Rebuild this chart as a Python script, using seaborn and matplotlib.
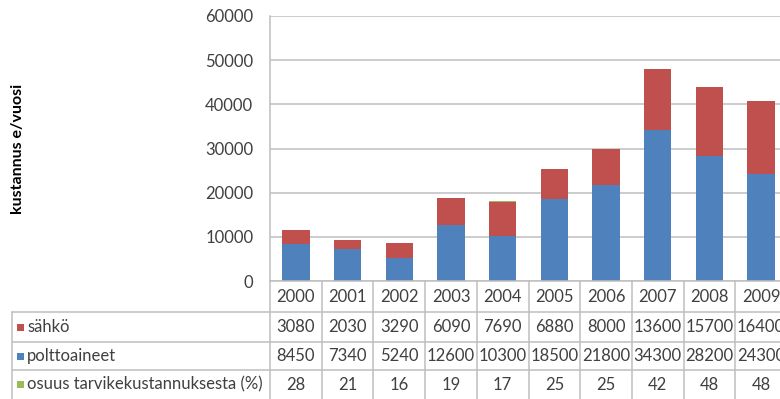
import matplotlib
matplotlib.use("Agg")
import matplotlib.pyplot as plt
from matplotlib.patches import Rectangle
import pandas as pd
import seaborn as sns

# Annual costs per series
years = ["2000", "2001", "2002", "2003", "2004", "2005", "2006", "2007", "2008", "2009"]
sahko = [3080, 2030, 3290, 6090, 7690, 6880, 8000, 13600, 15700, 16400]
polttoaineet = [8450, 7340, 5240, 12600, 10300, 18500, 21800, 34300, 28200, 24300]
osuus = [28, 21, 16, 19, 17, 25, 25, 42, 48, 48]

series_labels = ["sähkö", "polttoaineet", "osuus tarvikekustannuksesta (%)"]
series_values = [sahko, polttoaineet, osuus]
y_ticks = [0, 10000, 20000, 30000, 40000, 50000, 60000]
y_label = "kustannus e/vuosi"

RED, BLUE, GREEN = "#C0504D", "#4F81BD", "#9BBB59"
series_colors = [RED, BLUE, GREEN]
TEXT = "#404040"
GRID = "#BFBFBF"
FS = 12

sns.set_theme(style="white")
plt.rcParams["font.family"] = ["Lato", "DejaVu Sans"]

W, H = 780, 399
fig = plt.figure(figsize=(W / 100, H / 100), dpi=100)


def px_axes(x0, y0, x1, y1):
    return fig.add_axes([x0 / W, 1 - y1 / H, (x1 - x0) / W, (y1 - y0) / H])


# ---- stacked columns ----
ax = px_axes(270, 16, 787, 281)
df = pd.DataFrame({"vuosi": years, "sahko": sahko,
                   "polttoaineet": polttoaineet, "osuus": osuus})
df["stack_mid"] = df["polttoaineet"] + df["sahko"]
df["stack_top"] = df["stack_mid"] + df["osuus"]

bar_kw = dict(x="vuosi", width=0.53, saturation=1, linewidth=0, ax=ax,
              errorbar=None, zorder=3)
sns.barplot(data=df, y="stack_top", color=GREEN, **bar_kw)
sns.barplot(data=df, y="stack_mid", color=RED, **bar_kw)
sns.barplot(data=df, y="polttoaineet", color=BLUE, **bar_kw)

ax.set_xlim(-0.5, len(years) - 0.5)
ax.set_ylim(y_ticks[0], y_ticks[-1])
ax.set_yticks(y_ticks)
ax.set_yticklabels([str(v) for v in y_ticks], color=TEXT, fontsize=FS)
ax.tick_params(axis="y", length=0, pad=12)
ax.set_xticks([])
ax.set_xlabel("")
ax.set_ylabel("")
ax.yaxis.grid(True, color=GRID, linewidth=1.1, zorder=0)
for s in ["top", "right", "bottom"]:
    ax.spines[s].set_visible(False)
ax.spines["left"].set_color(GRID)
ax.spines["left"].set_linewidth(1.1)

fig.text(18 / W, 1 - 149 / H, y_label, rotation=90, ha="center", va="center",
         fontsize=11.5, fontweight="bold", color="black")

# ---- data table below the columns ----
cat_w = 517 / len(years)           # pixels per category
label_w = 270 - 12                 # label column width in pixels
tax = px_axes(12, 281, 787, 399)
x_left = -0.5 - label_w / cat_w
x_right = len(years) - 0.5
tax.set_xlim(x_left, x_right)
tax.set_ylim(399, 281)
tax.axis("off")

line_kw = dict(color=GRID, linewidth=1.1, clip_on=False)
row_edges = [312, 342, 370]
row_centers = [327, 356, 384.5]
header_center = 297

# category boundaries
for k in range(len(years) + 1):
    tax.plot([k - 0.5, k - 0.5], [281, 399], **line_kw)
# axis line / header top
tax.plot([-0.5, x_right], [281, 281], **line_kw)
# row separators
for yy in row_edges:
    tax.plot([x_left, x_right], [yy, yy], **line_kw)
# label column left border
tax.plot([x_left, x_left], [row_edges[0], 399], **line_kw)

for i, yr in enumerate(years):
    tax.text(i, header_center, yr, ha="center", va="center",
             fontsize=FS, color=TEXT)

sq = 7
for label, values, col, yc in zip(series_labels, series_values,
                                  series_colors, row_centers):
    tax.add_patch(Rectangle((x_left + 5 / cat_w, yc - sq / 2), sq / cat_w, sq,
                            facecolor=col, edgecolor="none"))
    tax.text(x_left + 15 / cat_w, yc, label, ha="left", va="center",
             fontsize=FS, color=TEXT)
    for i, v in enumerate(values):
        tax.text(i, yc, str(v), ha="center", va="center",
                 fontsize=FS, color=TEXT)

fig.savefig("out.png", dpi=100)
